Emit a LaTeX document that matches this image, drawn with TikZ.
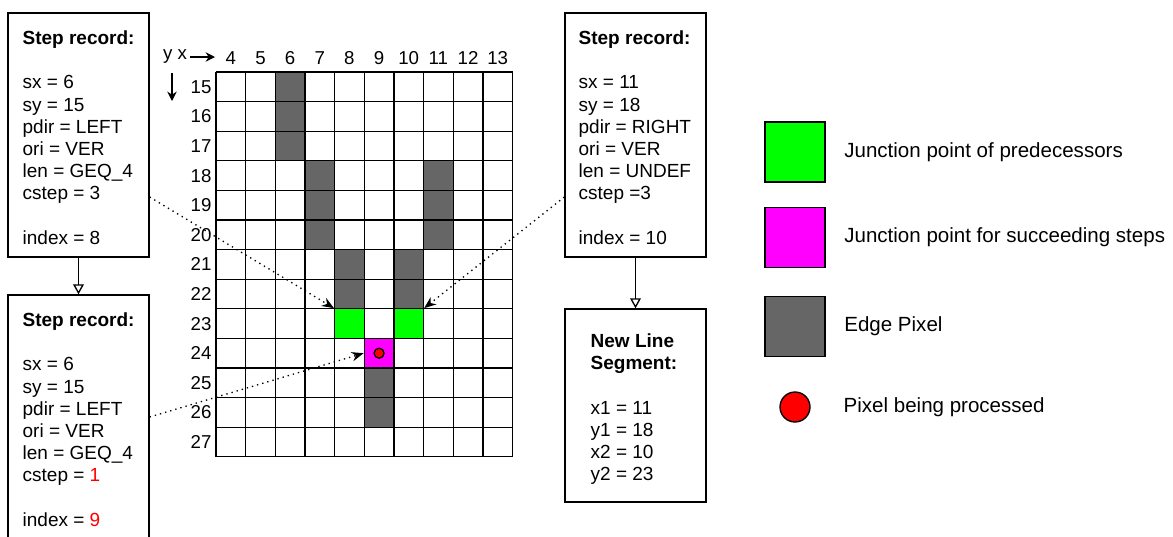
\documentclass[tikz,border=0pt]{standalone}
\usepackage{fontspec}
\setmainfont{Liberation Sans}
\usetikzlibrary{arrows.meta,positioning}
\definecolor{edgegray}{HTML}{666666}
\definecolor{juncgreen}{HTML}{00FF00}
\definecolor{juncmag}{HTML}{FF00FF}
\definecolor{procred}{HTML}{FF0000}
\begin{document}
\begin{tikzpicture}[x=.75pt,y=-.75pt,line width=1pt,
  recbox/.style={draw,minimum width=105.75pt,minimum height=183pt,inner sep=0},
  rectext/.style={anchor=north west,align=left,inner sep=0,font=\fontsize{14.25}{16.65}\selectfont},
  gridlbl/.style={inner sep=0,font=\fontsize{14}{16}\selectfont},
  cell/.style={draw,minimum size=22.2pt,inner sep=0},
  procdot/.style={circle,draw,fill=procred,inner sep=0},
  legsq/.style={draw,minimum size=45pt,inner sep=0},
  legtext/.style={anchor=west,inner sep=0,font=\fontsize{15.4}{18}\selectfont},
  flow/.style={-{Triangle[open,length=7.5pt,width=8pt]}},
  pointer/.style={dash pattern=on 1pt off 3pt,-{Stealth[length=9pt,width=7pt]}}]
  \useasboundingbox (0,0) rectangle (1173,536);
  \begin{scope}[shift={(216,72)},x=22.2375pt,y=-22.2pt]
    \foreach \c/\r in {2/0,2/1,2/2,3/3,3/4,3/5,7/3,7/4,7/5,4/6,4/7,6/6,6/7,5/10,5/11}
      \fill[edgegray] (\c,\r) rectangle ++(1,1);
    \node[cell,fill=juncgreen] (jleft) at (4.5,8.5) {};
    \node[cell,fill=juncgreen] (jright) at (6.5,8.5) {};
    \node[cell,fill=juncmag] (jsucc) at (5.5,9.5) {};
    \foreach \i in {0,...,10}
      \draw (\i,0) -- (\i,13);
    \foreach \i in {0,...,13}
      \draw (0,\i) -- (10,\i);
    \node[procdot,minimum size=7.5pt] (proc) at (jsucc) {};
    \foreach \c [count=\i from 0] in {4,...,13}
      \node[gridlbl] (col\c) at (\i+.5,-.47) {\c};
    \foreach \r [count=\i from 0] in {15,...,27}
      \node[gridlbl,anchor=east] (row\r) at (-.13,\i+.5) {\r};
  \end{scope}
  \node[gridlbl] (yx) at (175,57) {y x};
  \coordinate (xend) at (215,57);
  \coordinate (ytop) at (172,73);
  \coordinate (yend) at (172,101);
  \draw[-{Stealth[length=7pt,width=7pt]}] ([xshift=2pt]yx.east) -- (xend);
  \draw[-{Stealth[length=7pt,width=7pt]}] (ytop) -- (yend);
  \node[recbox] (rec1) at (78.5,135) {};
  \node[rectext] at (22,30) {\textbf{Step record:}\\[16.65pt]
    sx = 6\\ sy = 15\\ pdir = LEFT\\ ori = VER\\ len = GEQ\_4\\ cstep = 3\\[16.65pt]
    index = 8};
  \node[recbox] (rec2) at (78.5,417) {};
  \node[rectext] at (22,312) {\textbf{Step record:}\\[16.65pt]
    sx = 6\\ sy = 15\\ pdir = LEFT\\ ori = VER\\ len = GEQ\_4\\ cstep = \textcolor{procred}{1}\\[16.65pt]
    index = \textcolor{procred}{9}};
  \node[recbox] (rec3) at (635.5,135) {};
  \node[rectext] at (578,30) {\textbf{Step record:}\\[16.65pt]
    sx = 11\\ sy = 18\\ pdir = RIGHT\\ ori = VER\\ len = UNDEF\\ cstep =3\\[16.65pt]
    index = 10};
  \node[recbox,minimum height=144.75pt] (seg) at (635.5,405.5) {};
  \node[rectext] at (590,333) {\textbf{New Line}\\ \textbf{Segment:}\\[16.65pt]
    x1 = 11\\ y1 = 18\\ x2 = 10\\ y2 = 23};
  \draw[flow] (rec1) -- (rec2);
  \draw[flow] (rec3) -- (seg);
  \draw[pointer] ([yshift=-46.5pt]rec1.east) -- (jleft.north west);
  \draw[pointer] ([yshift=-46.5pt]rec3.west) -- (jright.north east);
  \draw[pointer] (rec2.east) -- (jsucc.west);
  \node[legsq,fill=juncgreen] (lgpred) at (795,152) {};
  \node[legtext,right=13.5pt of lgpred] {Junction point of predecessors};
  \node[legsq,fill=juncmag] (lgsucc) at (795,237.5) {};
  \node[legtext,right=13.5pt of lgsucc] {Junction point for succeeding steps};
  \node[legsq,fill=edgegray] (lgedge) at (795,326.5) {};
  \node[legtext,right=13.5pt of lgedge] {Edge Pixel};
  \node[procdot,minimum size=22.5pt] (lgproc) at (795,407) {};
  \node[legtext] at (843,407) {Pixel being processed};
\end{tikzpicture}
\end{document}
